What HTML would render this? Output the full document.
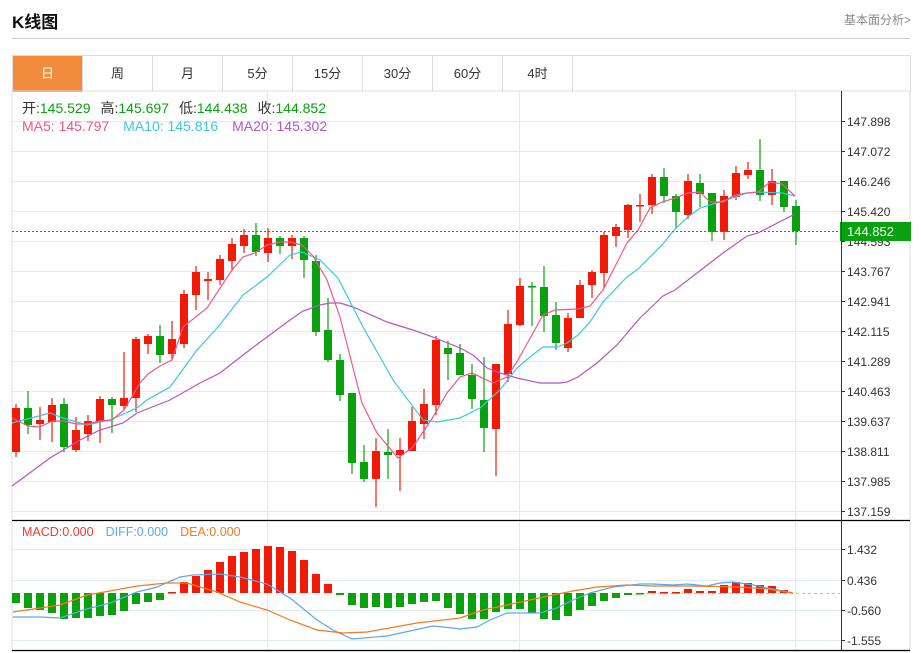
<!DOCTYPE html>
<html><head><meta charset="utf-8"><style>
body{margin:0;width:921px;height:653px;background:#fff;font-family:"Liberation Sans","Noto Sans CJK SC",sans-serif;overflow:hidden;position:relative}
.t{position:absolute;left:12px;top:8px;font-size:17px;font-weight:bold;color:#111}
.r{position:absolute;right:10px;top:11px;font-size:12px;color:#888}
.hl{position:absolute;left:12px;top:38px;width:898px;height:1px;background:#ccc}
.tabs{position:absolute;left:12px;top:55px;width:897px;height:36px;border:1px solid #ddd;border-bottom:none;display:flex}
.tabs div{width:69px;border-right:1px solid #ddd;text-align:center;line-height:36px;font-size:13px;color:#333}
.tabs div.a{background:#f28c3c;color:#fff}
svg{position:absolute;left:0;top:0}
</style></head><body>
<div class="t">K线图</div><div class="r">基本面分析&gt;</div><div class="hl"></div>
<div class="tabs"><div class="a">日</div><div>周</div><div>月</div><div>5分</div><div>15分</div><div>30分</div><div>60分</div><div>4时</div></div>
<svg id="s" width="921" height="653" xmlns="http://www.w3.org/2000/svg" font-family="Liberation Sans, Noto Sans CJK SC, sans-serif"></svg>
<script>
var s=document.getElementById('s'),h='';
function L(x1,y1,x2,y2,c,w,d){h+='<line x1="'+x1+'" y1="'+y1+'" x2="'+x2+'" y2="'+y2+'" stroke="'+c+'" stroke-width="'+(w||1)+'"'+(d?' stroke-dasharray="'+d+'"':'')+'/>';}
function T(x,y,t,c,sz){h+='<text x="'+x+'" y="'+y+'" fill="'+c+'" font-size="'+(sz||12)+'">'+t+'</text>';}
function P(pts,c){h+='<polyline fill="none" stroke="'+c+'" stroke-width="1.2" points="'+pts+'"/>';}
h+='<rect x="12" y="91" width="898" height="560" fill="none" stroke="#ddd"/>';
var lab=['147.898','147.072','146.246','145.420','144.593','143.767','142.941','142.115','141.289','140.463','139.637','138.811','137.985','137.159'];
for(var i=0;i<14;i++){var y=121+30*i;L(12,y+.5,841,y+.5,'#e3ebf2');L(841,y+.5,845,y+.5,'#333');T(847,y+5,lab[i],'#333');}
[267,519,795].forEach(function(x){L(x+.5,91,x+.5,650,'#e3ebf2');});
var ml=[[549,'1.432'],[580,'0.436'],[610,'-0.560'],[640,'-1.555']];
ml.forEach(function(m){L(12,m[0]+.5,841,m[0]+.5,'#e3ebf2');L(841,m[0]+.5,845,m[0]+.5,'#333');T(847,m[0]+5,m[1],'#333');});
var C=[[0,408,452,404,457],[1,408,425,391,434],[0,420,424,407,440],[0,405,422,398,442],[1,404,447,398,452],[0,430,450,417,452],[0,421,434,415,441],[0,399,422,396,443],[1,399,405,397,433],[0,398,406,352,410],[0,339,398,337,412],[0,336,344,334,354],[1,336,355,325,363],[0,339,354,321,360],[0,294,344,290,348],[0,272,295,266,310],[0,279,281,272,300],[0,259,280,255,285],[0,244,261,238,271],[0,235,246,229,253],[1,235,252,223,256],[0,238,253,228,262],[1,238,246,236,254],[0,238,246,235,259],[1,238,260,236,278],[1,261,332,255,336],[1,330,360,298,362],[1,360,395,354,401],[1,393,463,393,474],[1,462,479,445,482],[0,451,479,438,507],[1,452,455,429,479],[0,450,455,438,491],[0,421,451,407,451],[0,404,424,389,439],[0,340,405,336,415],[1,348,354,341,380],[1,353,375,344,375],[1,375,399,364,409],[1,400,428,357,452],[0,364,429,364,476],[0,324,374,310,382],[0,286,325,278,326],[1,286,287,282,326],[1,287,316,266,332],[1,315,343,302,350],[0,318,348,313,352],[0,285,318,280,318],[0,272,285,270,298],[0,235,273,232,288],[0,227,236,224,247],[0,205,230,204,238],[0,205,206,194,222],[0,177,205,174,214],[1,177,196,168,203],[1,196,212,194,228],[0,181,215,174,219],[1,183,194,174,207],[1,193,232,193,241],[0,196,232,190,240],[0,173,197,166,200],[0,170,175,162,179],[1,170,195,139,201],[0,181,195,169,205],[1,181,207,181,212],[1,206,231,200,245]];
C.forEach(function(c,i){var x=16+12*i,col=c[0]?'#09a10d':'#f01a06';
L(x,c[3],x,c[4],col,1.2);var x0=Math.max(12,x-4);h+='<rect x="'+x0+'" y="'+c[1]+'" width="'+(x+4-x0)+'" height="'+Math.max(1.5,c[2]-c[1])+'" fill="'+col+'"/>';});
P('12,486 50,458 80,440 100,430 123,423 137,413 170,400 200,383 220,373 243,355 267,337 290,320 303,311 320,305 330,303 340,303 353,307 387,322 413,330 433,337 460,348 473,355 487,368 500,373 517,378 540,383 560,383 567,382 578,377 597,363 617,345 640,318 663,296 675,290 710,263 723,253 747,236 758,233 795,214','#b455c8');
P('12,423 50,413 63,418 87,425 110,420 137,408 147,400 170,387 197,350 218,327 243,295 267,277 290,255 302,252 320,260 338,278 363,327 393,380 423,420 437,422 460,418 480,408 500,390 517,368 530,357 543,347 557,347 567,343 578,335 590,322 603,302 627,277 638,269 662,245 675,229 688,217 700,208 723,201 735,197 747,193 758,192 782,193 795,196','#3cc8dc');
P('12,418 28,426 40,427 52,421 64,421 76,424 88,424 100,421 112,420 124,410 140,383 148,374 160,366 172,360 183,327 207,308 232,270 243,257 255,253 267,245 280,242 290,242 302,245 313,256 327,280 340,317 362,403 377,433 398,458 413,447 433,417 447,393 460,377 472,373 493,383 507,377 518,360 533,333 543,315 555,310 578,309 590,306 603,290 627,243 638,230 650,208 662,202 675,198 688,193 700,192 710,202 723,202 735,195 747,193 758,192 770,182 782,184 795,196','#f0578a');
L(12,231.5,841,231.5,'#09a10d',1,'2,2');
h+='<rect x="840" y="222" width="71" height="19" fill="#09a10d"/>';T(847,236,'144.852','#fff',13);
L(12,520.5,910,520.5,'#000',1.3);L(12,650.5,910,650.5,'#000',1.3);L(841.5,91,841.5,651,'#333');
L(640,593.5,840,593.5,'#a8cfe6',1.2,'3,3');
var M=[603,608,610,613,619,618,618,616,615,611,604,602,600,592,582,576,570,562,556,552,549,546,547,551,560,574,584,595,605,608,607,608,607,604,602,601,608,614,619,619,612,609,609,613,619,620,616,610,606,601,598,595,594,591,592,592,589,591,591,585,582,583,585,586,590];
M.forEach(function(v,i){var x=16+12*i,x0=Math.max(12,x-4);var red=v<593;var y=red?v:593,hh=Math.max(1.5,Math.abs(v-593));h+='<rect x="'+x0+'" y="'+y+'" width="'+(x+4-x0)+'" height="'+hh+'" fill="'+(red?'#f01a06':'#09a10d')+'"/>';});
P('13,617 40,617 60,618 83,610 110,603 137,592 157,587 180,577 193,575 220,574 240,577 267,584 290,598 317,620 333,630 352,639 387,636 433,626 453,628 460,629 477,627 490,620 507,613 540,613 557,608 573,600 590,593 613,587 640,584 653,584 673,585 687,584 707,586 720,583 733,582 753,585 773,589 793,593','#5aa8ec');
P('13,612 40,608 60,605 87,595 110,591 137,586 167,583 187,583 217,592 240,602 267,610 290,620 317,630 343,633 367,632 417,623 460,618 483,610 507,605 530,600 553,595 573,591 597,587 627,585 653,586 693,586 740,587 767,589 793,593','#f57a1c');
h+='<text x="22" y="113" font-size="14"><tspan fill="#333">开:</tspan><tspan fill="#09a10d">145.529</tspan><tspan fill="#333" dx="10">高:</tspan><tspan fill="#09a10d">145.697</tspan><tspan fill="#333" dx="10">低:</tspan><tspan fill="#09a10d">144.438</tspan><tspan fill="#333" dx="10">收:</tspan><tspan fill="#09a10d">144.852</tspan></text>';
h+='<text x="22" y="131" font-size="14"><tspan fill="#f0578a">MA5: 145.797</tspan><tspan fill="#3cc8dc" dx="14">MA10: 145.816</tspan><tspan fill="#b455c8" dx="14">MA20: 145.302</tspan></text>';
h+='<text x="22" y="536" font-size="12.5"><tspan fill="#f03a30">MACD:0.000</tspan><tspan fill="#5aa8ec" dx="12">DIFF:0.000</tspan><tspan fill="#f57a1c" dx="12">DEA:0.000</tspan></text>';
s.innerHTML=h;
</script>
</body></html>
